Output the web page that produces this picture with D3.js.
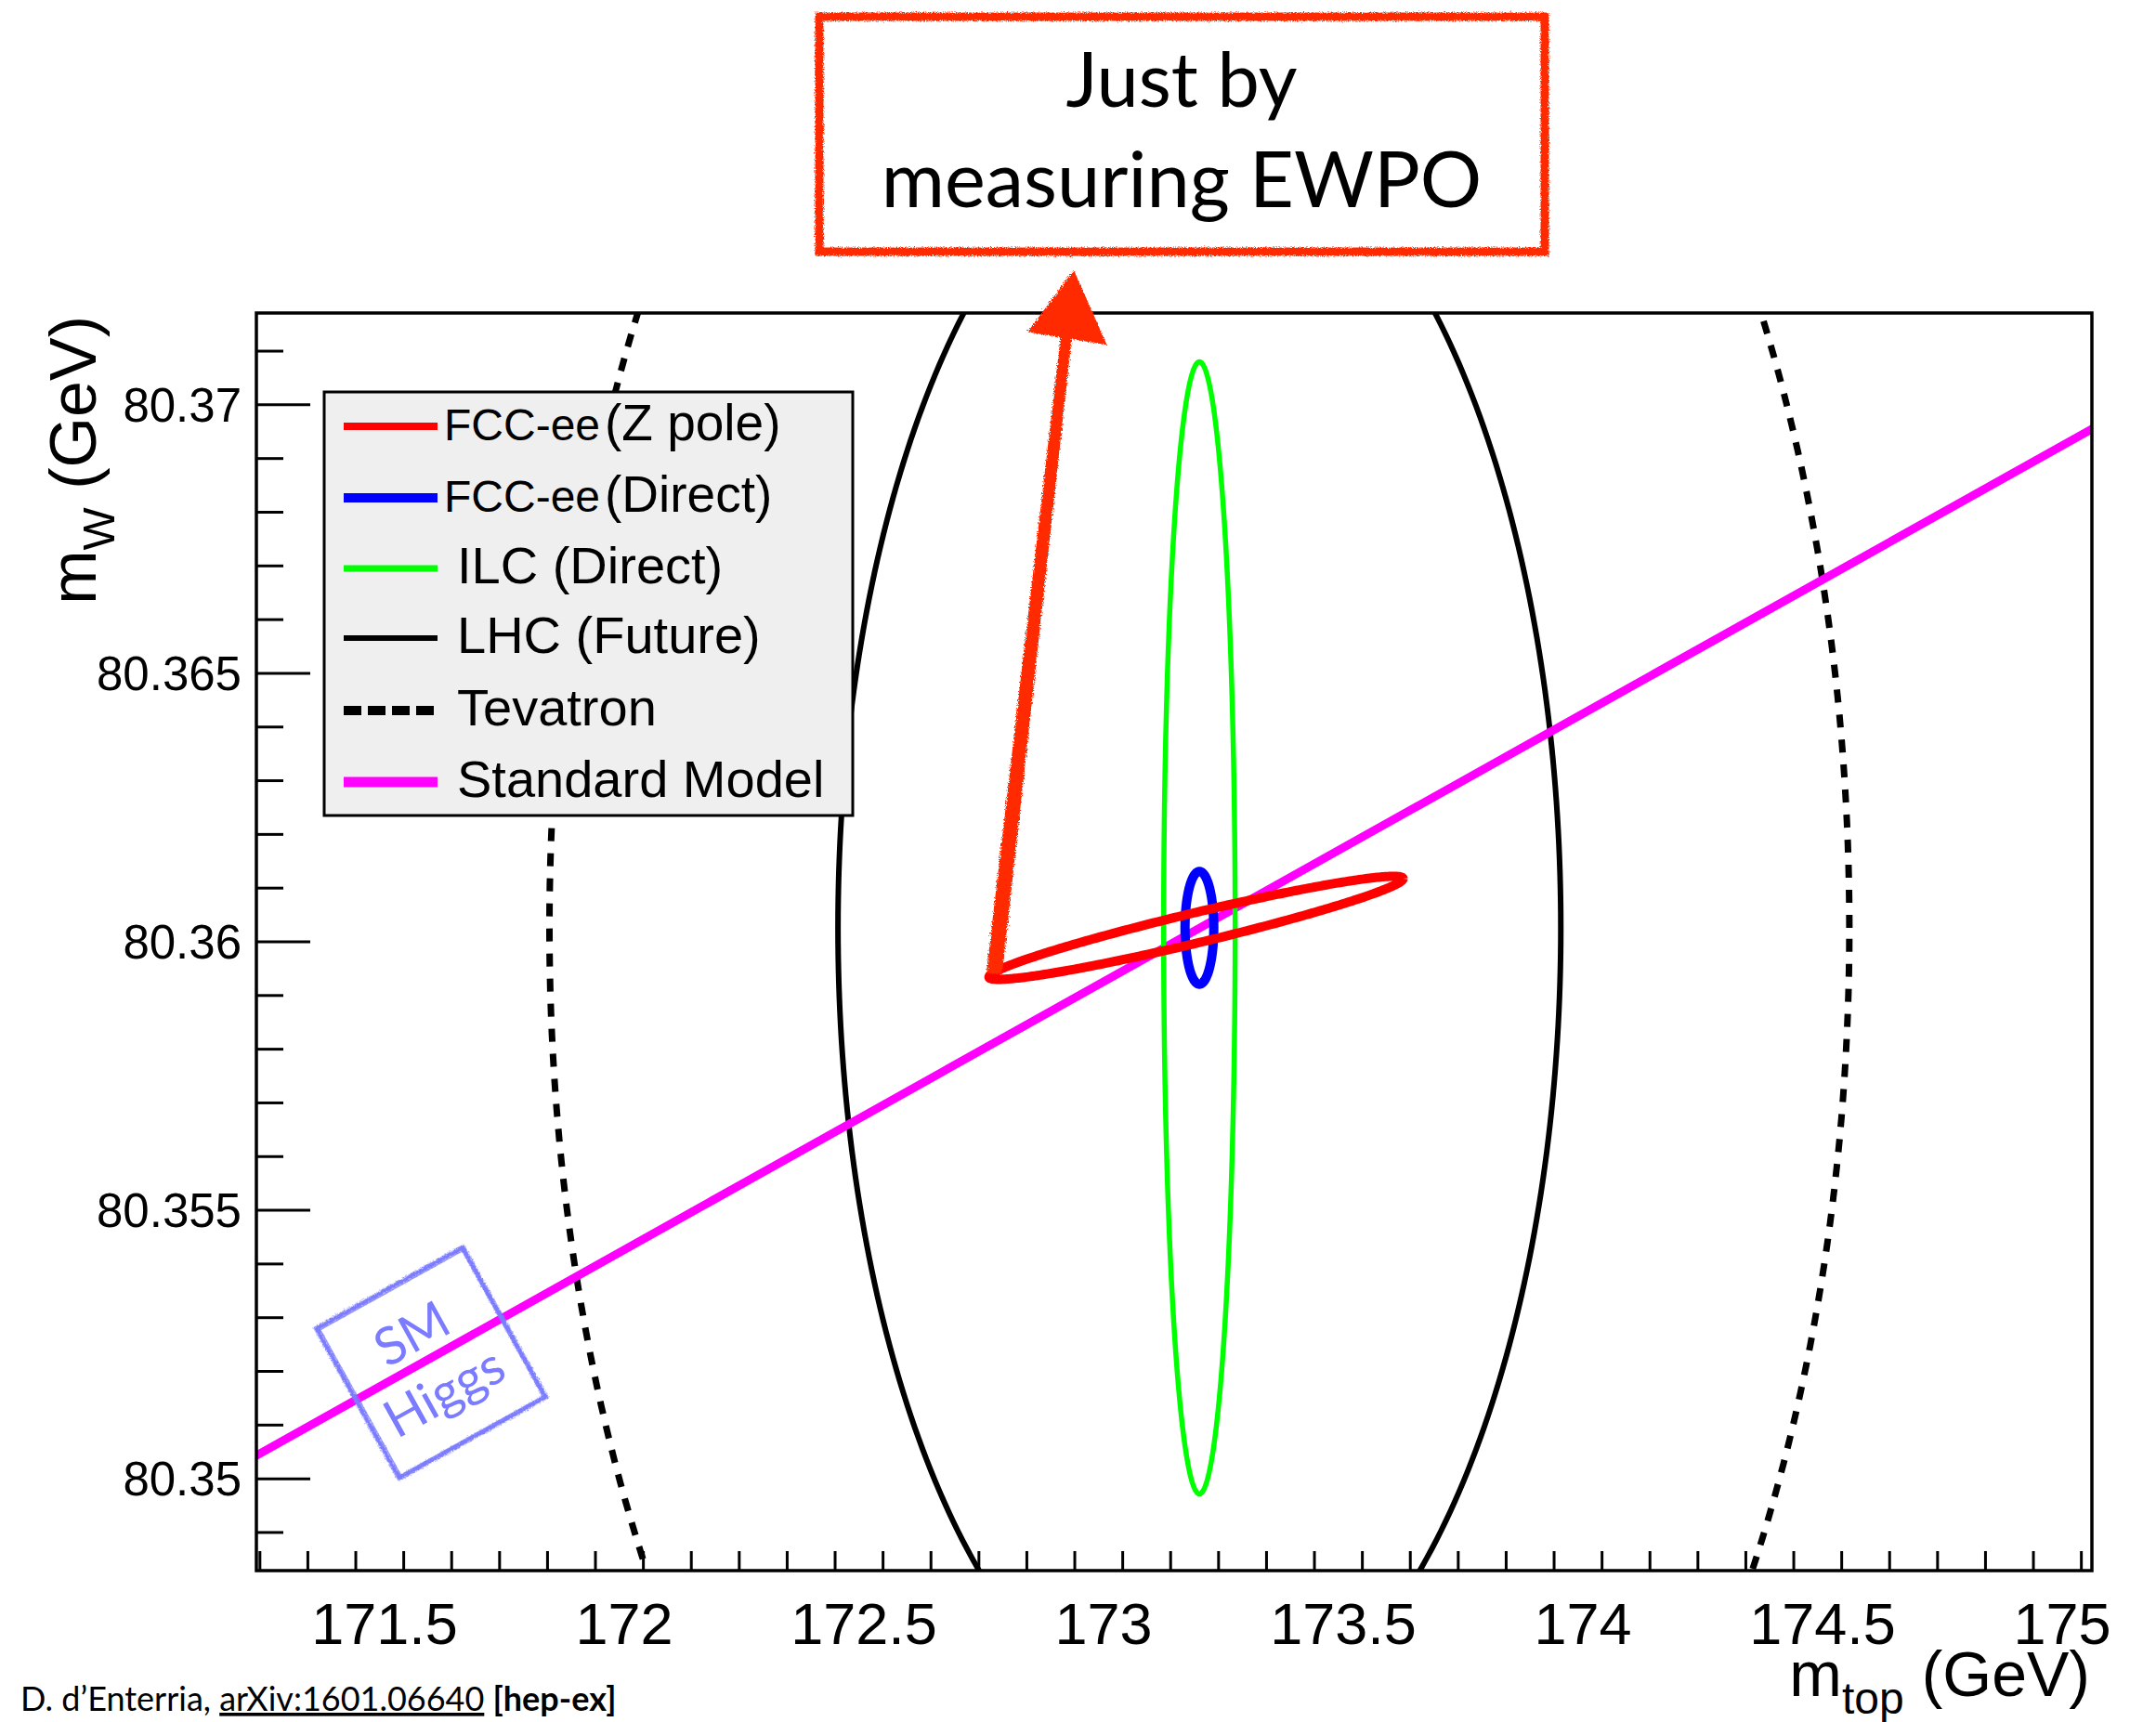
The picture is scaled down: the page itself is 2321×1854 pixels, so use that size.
<!DOCTYPE html>
<html>
<head>
<meta charset="utf-8">
<script src="https://cdn.jsdelivr.net/npm/d3@7"></script>
<style>
	body { margin: 0; background: #fff; }
</style>
</head>
<body>
<div id="chart"></div>
<script>
const WIDTH = 2321;
const HEIGHT = 1854;

const FRAME = {
	LEFT: 276,
	RIGHT: 2252,
	TOP: 337,
	BOTTOM: 1691,
};

// axis ranges (GeV)
const xDomain = [171.2326, 175.062];
const yDomain = [80.34829, 80.37171];
const xTickLabels = [171.5, 172, 172.5, 173, 173.5, 174, 174.5, 175];
const yTickLabels = [80.35, 80.355, 80.36, 80.365, 80.37];

// contours: centre, widths and correlation
const contourNames = ["Tevatron", "LHC (Future)", "ILC (Direct)", "FCC-ee (Direct)", "FCC-ee (Z pole)"];
const contourMt = [173.2, 173.2, 173.2, 173.2, 173.193];
const contourMw = [80.36026, 80.36026, 80.36026, 80.36026, 80.36026];
const contourSigMt = [1.356, 0.754, 0.0746, 0.030, 0.432];
const contourSigMw = [0.02275, 0.0151, 0.01054, 0.00105, 0.00096];
const contourRho = [0, 0, 0, 0, 0.954];
const contourColors = ["#000", "#000", "#00ff00", "#0000ff", "#ff0000"];
const contourWidths = [7, 6, 5.5, 10, 10];
const contourDash = ["14,13", null, null, null, null];

// Standard Model prediction line
const smMt = [171.2, 175.1];
const smMw = [80.35027, 80.36974];

// legend
const legendMain = ["FCC-ee", "FCC-ee", "ILC (Direct)", "LHC (Future)", "Tevatron", "Standard Model"];
const legendExtra = ["(Z pole)", "(Direct)", "", "", "", ""];
const legendColors = ["#ff0000", "#0000ff", "#00ff00", "#000", "#000", "#ff00ff"];
const legendWidths = [8, 10, 7, 6, 10, 11];
const legendDash = [null, null, null, null, "19,7", null];

// annotations (in data units)
const arrowMt = [172.771, 172.938]; // tail, tip
const arrowMw = [80.35941, 80.37251];
const higgsMt = 171.597;
const higgsMw = 80.35216;

const ROOT_FONT = "'Liberation Sans', Arial, Helvetica, sans-serif";
const NOTE_FONT = "Lato, 'Noto Sans', sans-serif";
const NOTE_RED = "#ff2a00";
const HIGGS_BLUE = "#7b7bff";

const svg = d3
	.select("#chart")
	.append("svg")
	.attr("width", WIDTH)
	.attr("height", HEIGHT)
	.attr("viewBox", [0, 0, WIDTH, HEIGHT]);

const defs = svg.append("defs");
defs.append("clipPath")
	.attr("id", "clip")
	.append("rect")
	.attr("x", FRAME.LEFT)
	.attr("y", FRAME.TOP)
	.attr("width", FRAME.RIGHT - FRAME.LEFT)
	.attr("height", FRAME.BOTTOM - FRAME.TOP);

// rough edge for the hand drawn bits
const rough = defs.append("filter").attr("id", "rough").attr("x", "-10%").attr("y", "-10%").attr("width", "120%").attr("height", "120%");
rough.append("feTurbulence").attr("type", "fractalNoise").attr("baseFrequency", 0.9).attr("numOctaves", 2).attr("result", "noise");
rough.append("feDisplacementMap").attr("in", "SourceGraphic").attr("in2", "noise").attr("scale", 5);

const xScale = d3.scaleLinear().domain(xDomain).range([FRAME.LEFT, FRAME.RIGHT]);
const yScale = d3.scaleLinear().domain(yDomain).range([FRAME.BOTTOM, FRAME.TOP]);

const line = d3.line().x((d) => xScale(d[0])).y((d) => yScale(d[1]));

const plot = svg.append("g").attr("clip-path", "url(#clip)");

const angles = d3.range(0, 361).map((d) => (d * Math.PI) / 180);
function contourPoints(i) {
	const r = contourRho[i];
	return angles.map((t) => [
		contourMt[i] + contourSigMt[i] * Math.cos(t),
		contourMw[i] + contourSigMw[i] * (r * Math.cos(t) + Math.sqrt(1 - r * r) * Math.sin(t)),
	]);
}

function drawContour(i) {
	plot.append("path")
		.attr("d", line(contourPoints(i)))
		.attr("fill", "none")
		.attr("stroke", contourColors[i])
		.attr("stroke-width", contourWidths[i])
		.attr("stroke-dasharray", contourDash[i]);
}

// Tevatron, LHC underneath the SM line, the rest on top
drawContour(0);
drawContour(1);
plot.append("path")
	.attr("d", line(smMt.map((m, i) => [m, smMw[i]])))
	.attr("stroke", "#ff00ff")
	.attr("stroke-width", 9)
	.attr("fill", "none");
drawContour(2);
drawContour(3);
drawContour(4);

// frame + ticks (ROOT style, ticks inward on left and bottom)
const axes = svg.append("g").attr("stroke", "#000").attr("stroke-width", 3);

const xMinor = d3.range(17124, 17507, 10).map((d) => d / 100).filter((d) => d >= xDomain[0]);
axes.selectAll(".xtick")
	.data(xMinor)
	.join("line")
	.attr("x1", (d) => xScale(d))
	.attr("x2", (d) => xScale(d))
	.attr("y1", FRAME.BOTTOM)
	.attr("y2", (d) => FRAME.BOTTOM - (Math.abs(d * 2 - Math.round(d * 2)) < 1e-6 ? 42 : 21));

const yMinor = d3.range(80349, 80372).map((d) => d / 1000);
axes.selectAll(".ytick")
	.data(yMinor)
	.join("line")
	.attr("y1", (d) => yScale(d))
	.attr("y2", (d) => yScale(d))
	.attr("x1", FRAME.LEFT)
	.attr("x2", (d) => FRAME.LEFT + (Math.abs(d * 200 - Math.round(d * 200)) < 1e-6 ? 58 : 29));

svg.append("rect")
	.attr("x", FRAME.LEFT)
	.attr("y", FRAME.TOP)
	.attr("width", FRAME.RIGHT - FRAME.LEFT)
	.attr("height", FRAME.BOTTOM - FRAME.TOP)
	.attr("fill", "none")
	.attr("stroke", "#000")
	.attr("stroke-width", 3.5);

svg.append("g")
	.selectAll("text")
	.data(xTickLabels)
	.join("text")
	.attr("x", (d) => xScale(d))
	.attr("y", 1770)
	.attr("text-anchor", "middle")
	.style("font-family", ROOT_FONT)
	.style("font-size", "63px")
	.text((d) => d);

svg.append("g")
	.selectAll("text")
	.data(yTickLabels)
	.join("text")
	.attr("x", 260)
	.attr("y", (d) => yScale(d))
	.attr("dy", "0.36em")
	.attr("text-anchor", "end")
	.style("font-family", ROOT_FONT)
	.style("font-size", "51px")
	.text((d) => d);

// axis titles
const xTitle = svg.append("text")
	.attr("x", 2250)
	.attr("y", 1826)
	.attr("text-anchor", "end")
	.style("font-family", ROOT_FONT)
	.style("font-size", "68px");
xTitle.append("tspan").text("m");
xTitle.append("tspan").attr("dy", 19).style("font-size", "48px").text("top");
xTitle.append("tspan").attr("dy", -19).text(" (GeV)");

const yTitle = svg.append("text")
	.attr("transform", "translate(103,340) rotate(-90)")
	.attr("text-anchor", "end")
	.style("font-family", ROOT_FONT)
	.style("font-size", "70px");
yTitle.append("tspan").text("m");
yTitle.append("tspan").attr("dy", 20).style("font-size", "49px").text("W");
yTitle.append("tspan").attr("dy", -20).text(" (GeV)");

// legend
const legend = svg.append("g");
legend.append("rect")
	.attr("x", 349)
	.attr("y", 422)
	.attr("width", 569)
	.attr("height", 456)
	.attr("fill", "#efefef")
	.attr("stroke", "#000")
	.attr("stroke-width", 3);

const legendLineY = [459, 536, 612, 687, 765, 842];
legendMain.forEach((name, i) => {
	legend.append("line")
		.attr("x1", 370)
		.attr("x2", 471)
		.attr("y1", legendLineY[i])
		.attr("y2", legendLineY[i])
		.attr("stroke", legendColors[i])
		.attr("stroke-width", legendWidths[i])
		.attr("stroke-dasharray", legendDash[i]);
	const t = legend.append("text")
		.attr("y", legendLineY[i] + (legendExtra[i] ? 15 : 16))
		.style("font-family", ROOT_FONT);
	if (legendExtra[i]) {
		t.append("tspan").attr("x", 478).style("font-size", "48px").text(name);
		t.append("tspan").attr("x", 651).style("font-size", "55px").text(legendExtra[i]);
	} else {
		t.append("tspan").attr("x", 492).style("font-size", "56px").text(name);
	}
});

// SM Higgs stamp
const hx = xScale(higgsMt);
const hy = yScale(higgsMw);
const stamp = svg.append("g").attr("transform", `translate(${hx},${hy}) rotate(-29)`);
stamp.append("rect")
	.attr("x", -90).attr("y", -92).attr("width", 180).attr("height", 184)
	.attr("fill", "none").attr("stroke", HIGGS_BLUE).attr("stroke-width", 5)
	.attr("filter", "url(#rough)");
stamp.append("rect")
	.attr("x", -87).attr("y", -89).attr("width", 175).attr("height", 179)
	.attr("fill", "none").attr("stroke", HIGGS_BLUE).attr("stroke-width", 1.5).attr("opacity", 0.7);
stamp.append("text").attr("x", -3).attr("y", -18).attr("text-anchor", "middle")
	.style("font-family", NOTE_FONT).style("font-size", "56px").attr("fill", HIGGS_BLUE).text("SM");
stamp.append("text").attr("x", -3).attr("y", 54).attr("text-anchor", "middle")
	.style("font-family", NOTE_FONT).style("font-size", "56px").attr("fill", HIGGS_BLUE).text("Higgs");

// hand drawn arrow from the Z pole ellipse up to the note
const tail = [xScale(arrowMt[0]), yScale(arrowMw[0])];
const tip = [xScale(arrowMt[1]), yScale(arrowMw[1])];
const len = Math.hypot(tip[0] - tail[0], tip[1] - tail[1]);
const ux = (tip[0] - tail[0]) / len;
const uy = (tip[1] - tail[1]) / len;
const nx = -uy;
const ny = ux;
const headLen = 72;
const base = [tip[0] - ux * headLen, tip[1] - uy * headLen];
const shaft = [
	[tail[0] + nx * 9, tail[1] + ny * 9],
	[base[0] + nx * 6, base[1] + ny * 6],
	[base[0] - nx * 6, base[1] - ny * 6],
	[tail[0] - nx * 8, tail[1] - ny * 8],
];
const head = [
	tip,
	[base[0] + nx * 44, base[1] + ny * 44 + 4],
	[base[0] - nx * 42, base[1] - ny * 42],
];
const arrow = svg.append("g").attr("fill", NOTE_RED).attr("filter", "url(#rough)");
arrow.append("path").attr("d", d3.line()(shaft) + "Z");
arrow.append("path").attr("d", d3.line()(head) + "Z");

// note box
const note = svg.append("g");
note.append("rect")
	.attr("x", 882).attr("y", 18).attr("width", 781).attr("height", 253)
	.attr("fill", "#fff").attr("stroke", NOTE_RED).attr("stroke-width", 9)
	.attr("filter", "url(#rough)");
note.append("text").attr("x", 1272).attr("y", 115).attr("text-anchor", "middle")
	.style("font-family", NOTE_FONT).style("font-size", "81px").text("Just by");
note.append("text").attr("x", 1272).attr("y", 223).attr("text-anchor", "middle")
	.style("font-family", NOTE_FONT).style("font-size", "83px").text("measuring EWPO");

// reference line
const ref = svg.append("text")
	.attr("x", 22)
	.attr("y", 1842)
	.style("font-family", NOTE_FONT)
	.style("font-size", "36px");
ref.append("tspan").text("D. d\u2019Enterria, ");
ref.append("tspan").style("text-decoration", "underline").text("arXiv:1601.06640");
ref.append("tspan").text(" ");
ref.append("tspan").style("font-weight", "bold").text("[hep-ex]");
</script>
</body>
</html>
